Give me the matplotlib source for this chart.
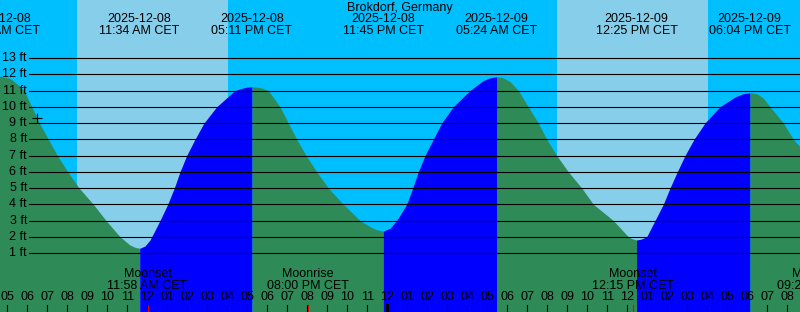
import matplotlib
matplotlib.use("Agg")
import matplotlib.pyplot as plt
import matplotlib.transforms as mtransforms

plt.rcParams['font.family'] = ['Liberation Sans', 'DejaVu Sans']
plt.rcParams['font.size'] = 9

# hours since 2025-12-08 00:00 CET
tide_times = [4.50, 5.09, 5.44, 5.79, 6.175, 6.555, 7.005, 7.455, 7.975, 8.54, 9.255, 9.89,
              10.59, 11.09, 11.34, 11.575,
              11.84, 12.09, 12.175, 12.59, 12.975, 13.305, 13.59, 13.925, 14.34, 14.79,
              15.425, 16.34, 16.74, 16.95, 17.19,
              17.45, 17.69, 18.005, 18.59, 19.005, 19.425, 19.89, 20.425, 21.005, 21.755,
              22.59, 23.09, 23.44, 23.755,
              24.09, 24.425, 24.925, 25.225, 25.505, 25.84, 26.255, 26.675, 27.255, 28.09,
              28.74, 29.09, 29.43,
              29.74, 30.09, 30.505, 31.005, 31.505, 31.925, 32.425, 33.005, 33.675, 34.255,
              35.255, 36.005, 36.19, 36.415,
              36.64, 36.925, 37.34, 37.755, 38.09, 38.455, 38.84, 39.29, 39.84, 40.59,
              41.34, 41.74, 42.09,
              42.44, 42.74, 43.09, 43.755, 44.255, 44.59, 45.09]
tide_heights = [11.9, 11.75, 11.4, 11.0, 10.0, 9.0, 8.0, 7.0, 6.0, 5.0, 4.0, 3.0,
                2.0, 1.49, 1.35, 1.29,
                1.43, 1.8, 2.0, 3.0, 4.0, 5.0, 6.0, 7.0, 8.0, 9.0,
                10.0, 11.0, 11.15, 11.21, 11.23,
                11.21, 11.15, 11.0, 10.0, 9.0, 8.0, 7.0, 6.0, 5.0, 4.0,
                3.0, 2.62, 2.42, 2.35,
                2.52, 3.0, 4.0, 5.0, 6.0, 7.0, 8.0, 9.0, 10.0, 11.0,
                11.6, 11.78, 11.85,
                11.78, 11.55, 11.0, 10.0, 9.0, 8.0, 7.0, 6.0, 5.0, 4.0,
                3.0, 2.0, 1.88, 1.8,
                1.85, 2.0, 3.0, 4.0, 5.0, 6.0, 7.0, 8.0, 9.0, 10.0,
                10.6, 10.8, 10.86,
                10.8, 10.55, 10.0, 9.0, 8.0, 7.54, 6.9]

event_times = [4.55, 11.567, 17.183, 23.75, 29.4, 36.417, 42.067]
event_dates = ["2025-12-08", "2025-12-08", "2025-12-08", "2025-12-08",
               "2025-12-09", "2025-12-09", "2025-12-09"]
event_clock = ["04:33 AM CET", "11:34 AM CET", "05:11 PM CET", "11:45 PM CET",
               "05:24 AM CET", "12:25 PM CET", "06:04 PM CET"]

sunrise = [8.43, 32.43]
sunset = [15.98, 40.0]

moon_times = [11.967, 20.0, 36.25, 45.467]
moon_names = ["Moonset", "Moonrise", "Moonset", "Moonrise"]
moon_clock = ["11:58 AM CET", "08:00 PM CET", "12:15 PM CET", "09:28 PM CET"]

ft_levels = list(range(1, 14))
hours = list(range(5, 45))
now_mark = (6.455, 9.29)

NIGHT = "#00bfff"
DAY = "#87ceeb"
FALL = "#2e8b57"
RISE = "#0000ff"

fig = plt.figure(figsize=(8, 3.12), dpi=100)
ax = fig.add_axes([0, 0, 1, 1])
ax.set_xlim(4.59, 44.59)
ax.set_ylim(-2.63, 16.57)
ax.axis("off")
ax.add_patch(plt.Rectangle((0, 0), 1, 1, transform=ax.transAxes, color=NIGHT, zorder=0))
for a, b in zip(sunrise, sunset):
    ax.axvspan(a, b, color=DAY, lw=0, zorder=1)

# split the curve into rising / falling runs
runs = []
start = 0
for i in range(1, len(tide_heights) - 1):
    up_before = tide_heights[i] > tide_heights[i - 1]
    up_after = tide_heights[i + 1] > tide_heights[i]
    if up_before != up_after:
        runs.append((start, i))
        start = i
runs.append((start, len(tide_heights) - 1))
for s, e in runs:
    xs = tide_times[s:e + 1]
    ys = tide_heights[s:e + 1]
    col = RISE if ys[-1] > ys[0] else FALL
    ax.fill_between(xs, ys, -5, color=col, lw=0, zorder=2)

trans_y = mtransforms.blended_transform_factory(ax.transAxes, ax.transData)
for f in ft_levels:
    ax.plot([29.3 / 800, 1], [f, f], color="black", lw=0.8, transform=trans_y, zorder=3)
    ax.text(27 / 800, f, "%d ft" % f, ha="right", va="center", transform=trans_y, zorder=4)

ax.plot(*now_mark, marker="+", color="black", ms=7, mew=0.8, zorder=4)

trans_x = mtransforms.blended_transform_factory(ax.transData, ax.transAxes)
ax.text(0.5, 1 - 7.5 / 312, "Brokdorf, Germany", ha="center", va="center",
        transform=ax.transAxes, zorder=4)
for t, d, c in zip(event_times, event_dates, event_clock):
    ax.text(t, 1 - 19.5 / 312, d, ha="center", va="center", transform=trans_x, zorder=4)
    ax.text(t, 1 - 31.3 / 312, c, ha="center", va="center", transform=trans_x, zorder=4)

for t, n, c in zip(moon_times, moon_names, moon_clock):
    ax.text(t, 1 - 274 / 312, n, ha="center", va="center", transform=trans_x, zorder=4)
    ax.text(t, 1 - 285.7 / 312, c, ha="center", va="center", transform=trans_x, zorder=4)
    ax.plot([t, t], [0, 7 / 312], color="red", lw=0.8, transform=trans_x, zorder=4)

for h in hours:
    lbl = "%02d" % ((h - 1) % 12 + 1)
    ax.text(h - 0.05, 1 - 297 / 312, lbl, ha="center", va="center", transform=trans_x, zorder=4)
    lw = 2.2 if h % 24 == 0 else 0.8
    ax.plot([h - 0.05, h - 0.05], [0, 7 / 312], color="black", lw=lw, transform=trans_x, zorder=4)

fig.savefig("out.png", dpi=100)
